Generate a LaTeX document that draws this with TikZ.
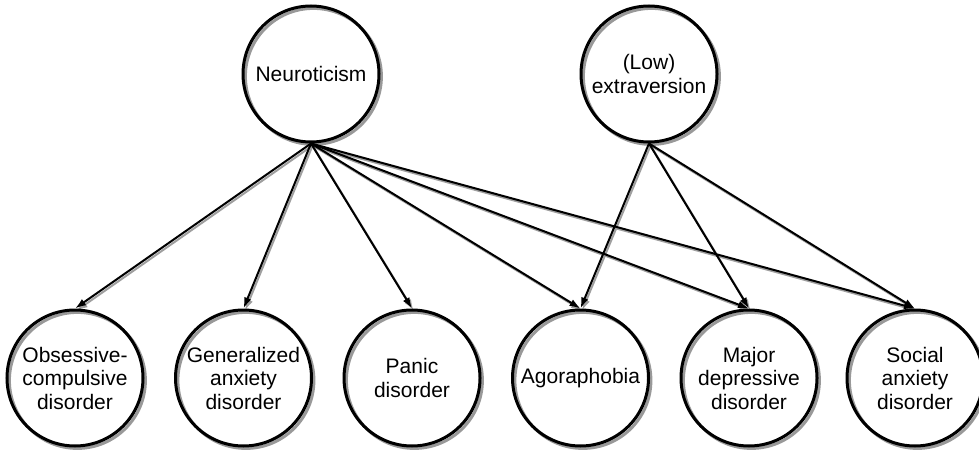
\documentclass[tikz,border=0pt]{standalone}
\usepackage{fontspec}
\setmainfont{Liberation Sans}
\usetikzlibrary{arrows.meta}
\pgfdeclarelayer{bg}
\pgfsetlayers{bg,main}
\tikzset{
  circ/.style={circle, draw=black, line width=3pt, minimum size=136pt, inner sep=0pt,
    align=center, font=\fontsize{21}{23.5}\selectfont},
  circshadow/.style={draw=gray!80, line width=3pt},
  edge/.style={line width=2pt, draw=black, -{Latex[length=11pt,width=7.5pt]}},
  edgeshadow/.style={line width=2pt, draw=gray!75, -{Latex[length=11pt,width=7.5pt]}}
}
\begin{document}
\begin{tikzpicture}[x=1pt,y=-1pt]
\useasboundingbox (0,0) rectangle (979,465);
\node[circ] (neu) at (311,74) {Neuroticism};
\node[circ] (ext) at (649,74) {(Low)\\extraversion};
\node[circ] (ocd) at (75,378) {Obsessive-\\compulsive\\disorder};
\node[circ] (gad) at (243.5,378) {Generalized\\anxiety\\disorder};
\node[circ] (pan) at (412,378) {Panic\\disorder};
\node[circ] (ago) at (580.5,378) {Agoraphobia};
\node[circ] (mdd) at (749,378) {Major\\depressive\\disorder};
\node[circ] (sad) at (915,378) {Social\\anxiety\\disorder};
\begin{pgfonlayer}{bg}
\foreach \n in {neu,ext,ocd,gad,pan,ago,mdd,sad}{
  \draw[circshadow] ([shift={(2.4,2.4)}]\n.center) circle (68);
}
\foreach \t in {ocd,gad,pan,ago,mdd,sad}{
  \draw[edgeshadow] ([shift={(1.6,2)}]neu.south) -- ([shift={(1.6,2)}]\t.north);
}
\foreach \t in {ago,mdd,sad}{
  \draw[edgeshadow] ([shift={(1.6,2)}]ext.south) -- ([shift={(1.6,2)}]\t.north);
}
\end{pgfonlayer}
\foreach \t in {ocd,gad,pan,ago,mdd,sad}{
  \draw[edge] (neu.south) -- (\t.north);
}
\foreach \t in {ago,mdd,sad}{
  \draw[edge] (ext.south) -- (\t.north);
}
\end{tikzpicture}
\end{document}
